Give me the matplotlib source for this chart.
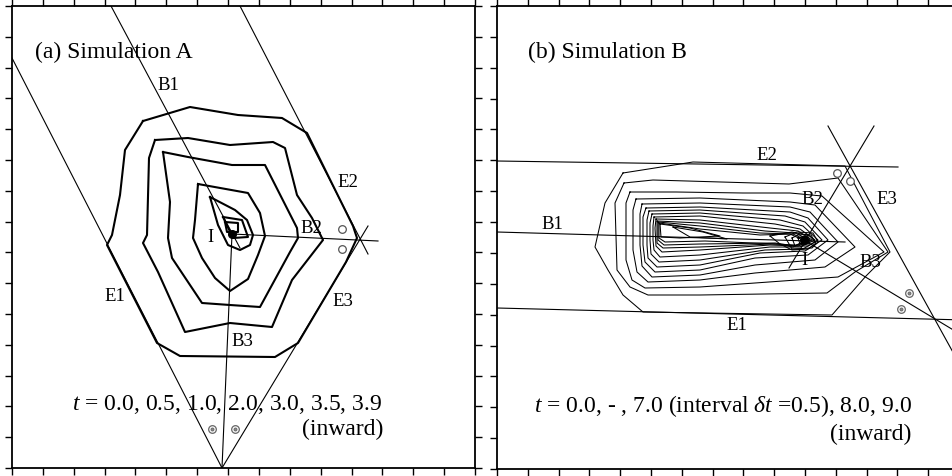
import numpy as np
import matplotlib.pyplot as plt

plt.rcParams['font.family'] = ['Liberation Serif', 'DejaVu Serif']
plt.rcParams['mathtext.fontset'] = 'custom'
plt.rcParams['mathtext.rm'] = 'Liberation Serif'
plt.rcParams['mathtext.it'] = 'Liberation Serif:italic'

# coordinates (x right, y down)

# ---- panel (a): Simulation A ----
times_a = [0.0, 0.5, 1.0, 2.0, 3.0, 3.5, 3.9]
fronts_a = [
    [(143,121),(190,107),(238,115),(282,118),(307,133),(353,226),(357,238),(346,262),
     (298,343),(275,357),(180,356),(157,343),(107,245),(112,235),(120,195),(125,150),(143,121)],
    [(155,140),(188,138),(230,145),(273,142),(285,148),(297,195),(312,218),(323,240),
     (292,280),(272,327),(230,323),(185,332),(158,272),(143,243),(147,235),(149,158),(155,140)],
    [(163,152),(188,157),(232,165),(265,165),(297,228),(298,238),(290,252),(260,307),
     (230,305),(202,303),(172,258),(168,238),(170,202),(163,152)],
    [(198,184),(248,193),(260,213),(265,236),(258,255),(248,279),(230,291),(215,278),
     (202,258),(193,238),(195,220),(198,184)],
    [(210,197),(235,210),(247,220),(253,235),(250,245),(240,250),(228,245),(218,225),(210,197)],
    [(223,217),(242,220),(248,237),(233,238),(223,217)],
    [(225,222),(238,223),(238,232),(227,232),(225,222)],
]
guides_a = {
    'E1': [(12,58),(222,468)],
    'B1': [(111,6),(240,248)],
    'E2': [(240,6),(368,254)],
    'E3': [(368,226),(222,468)],
    'B2': [(232,234),(378,241)],
    'B3': [(232,234),(222,468)],
}
ignition_a = (232,234)
open_marks_a = [(342,229),(342,249)]
double_marks_a = [(212,429),(235,429)]
labels_a = [('B1',168,85),('E2',348,182),('B2',311,228),('I',210,237),
            ('E1',115,296),('E3',343,301),('B3',242,341)]

# ---- panel (b): Simulation B ----
times_b = [0.0,0.5,1.0,1.5,2.0,2.5,3.0,3.5,4.0,4.5,5.0,5.5,6.0,6.5,7.0,8.0,9.0]
fronts_b = [
    [[(623,173),(693,162),(845,166),(890,252),(866,276),(832,315),(643,312),(623,295),
      (608,270),(595,247),(605,203),(623,173)]],
    [[(624,183),(653,180),(789,184),(838,178),(888,252),(855,272),(827,293),(700,295),
      (648,295),(630,287),(617,270),(615,203),(624,183)]],
    [[(630,192),(676,192),(743,193),(790,193),(822,196),(884,252),(838,277),(755,283),
      (700,287),(645,288),(632,280),(626,260),(626,203),(630,192)]],
    [[(636,199),(700,198),(790,202),(815,205),(855,247),(825,267),(755,273),(700,280),
      (648,282),(637,272),(633,250),(633,210),(636,199)]],
    [[(642,204),(700,203),(790,207),(810,212),(838,242),(815,260),(755,265),(700,275),
      (652,277),(642,266),(640,245),(640,214),(642,204)]],
    [[(646,208),(700,207),(790,212),(808,218),(828,240),(808,255),(755,258),(700,270),
      (655,272),(645,262),(643,245),(643,217),(646,208)]],
    [[(649,211),(700,210),(785,216),(805,222),(822,240),(805,251),(760,253),(700,265),
      (657,267),(648,258),(647,245),(647,220),(649,211)]],
    [[(652,214),(700,213),(780,220),(803,226),(818,240),(803,249),(765,250),(700,260),
      (659,262),(651,254),(650,240),(650,223),(652,214)]],
    [[(654,217),(700,216),(775,224),(800,229),(815,240),(800,247),(770,247),(700,255),
      (660,257),(654,250),(653,240),(653,226),(654,217)]],
    [[(656,219),(700,220),(770,228),(798,231),(812,240),(798,246),(770,245),(700,250),
      (662,252),(656,246),(655,228),(656,219)]],
    [[(657,221),(700,223),(765,231),(795,233),(810,240),(796,245),(772,244),(700,247),
      (663,248),(657,243),(657,221)]],
    [[(658,222),(700,226),(760,233),(793,234),(808,241),(795,246),(775,243),(700,244),
      (664,245),(658,240),(658,222)]],
    [[(659,223),(700,229),(760,235),(790,234),(805,241),(793,247),(778,244),(705,241),
      (665,242),(659,238),(659,223)]],
    [[(660,224),(690,228),(720,236),(680,238),(661,237),(660,224)],
     [(770,236),(792,232),(810,236),(816,243),(808,249),(792,250),(780,244),(770,236)]],
    [[(673,227),(703,232),(727,239),(690,237),(673,227)],
     [(785,237),(797,232),(813,233),(818,242),(812,248),(792,249),(785,237)]],
    [[(792,238),(800,234),(811,235),(815,242),(808,246),(795,246),(792,238)]],
    [[(798,238),(804,236),(809,238),(809,244),(800,244),(798,238)]],
]
guides_b = {
    'E2': [(497,161),(898,167)],
    'E1': [(497,308),(965,320)],
    'B1': [(497,232),(845,242)],
    'B2': [(874,126),(789,268)],
    'E3': [(828,126),(965,374)],
    'B3': [(804,240),(965,337)],
}
ignition_b = (804,240)
open_marks_b = [(837,173),(850,181)]
double_marks_b = [(909,293),(901,309)]
labels_b = [('E2',767,155),('B2',812,200),('E3',887,200),('B1',552,225),
            ('I',804,261),('B3',870,263),('E1',737,326)]

fig = plt.figure(figsize=(9.52, 4.76), dpi=100)
ax_a = fig.add_axes([12/952, 8/476, 463/952, 462/476])
ax_b = fig.add_axes([497/952, 7/476, 462/952, 463/476])


def setup(ax, x0, x1, y0, y1):
    ax.set_xlim(x0, x1)
    ax.set_ylim(y1, y0)
    ax.set_xticks(np.linspace(x0, x1, 16))
    ax.set_yticks(np.linspace(y0, y1, 16))
    ax.tick_params(direction='out', length=5, width=1.0, top=True, right=True,
                   labelbottom=False, labelleft=False)
    for s in ax.spines.values():
        s.set_linewidth(1.3)


def draw_common(ax, guides, ignition, open_marks, double_marks, labels):
    for pts in guides.values():
        xs, ys = zip(*pts)
        ax.plot(xs, ys, color='black', lw=0.8)
    ax.plot(*ignition, 'o', color='black', ms=5.5, zorder=5)
    for x, y in open_marks:
        ax.plot(x, y, 'o', mfc='white', mec='#555555', mew=0.9, ms=5.5, zorder=5)
    for x, y in double_marks:
        ax.plot(x, y, 'o', mfc='white', mec='#666666', mew=0.9, ms=5.5, zorder=5)
        ax.plot(x, y, 'o', mfc='#888888', mec='#666666', mew=0.6, ms=2.2, zorder=6)
    for txt, x, y in labels:
        ax.text(x, y, txt, fontsize=13.5, ha='center', va='center')


# panel (a)
setup(ax_a, 12, 475, 6, 468)
for poly in fronts_a:
    xs, ys = zip(*poly)
    ax_a.plot(xs, ys, color='black', lw=1.5)
draw_common(ax_a, guides_a, ignition_a, open_marks_a, double_marks_a, labels_a)
ax_a.text(35, 52, '(a) Simulation A', fontsize=17, va='center')
ax_a.text(72, 404, r'$t$ = ' + ', '.join(f'{t:.1f}' for t in times_a),
          fontsize=17, va='center')
ax_a.text(383, 429, '(inward)', fontsize=17, ha='right', va='center')

# panel (b)
setup(ax_b, 497, 959, 6, 469)
for pieces in fronts_b:
    for poly in pieces:
        xs, ys = zip(*poly)
        ax_b.plot(xs, ys, color='black', lw=0.75)
draw_common(ax_b, guides_b, ignition_b, open_marks_b, double_marks_b, labels_b)
ax_b.text(528, 52, '(b) Simulation B', fontsize=17, va='center')
ax_b.text(534, 406, r'$t$ = 0.0, - , 7.0 (interval $\delta t$ =0.5), 8.0, 9.0',
          fontsize=17, va='center')
ax_b.text(911, 434, '(inward)', fontsize=17, ha='right', va='center')

fig.savefig('out.png', dpi=100)
